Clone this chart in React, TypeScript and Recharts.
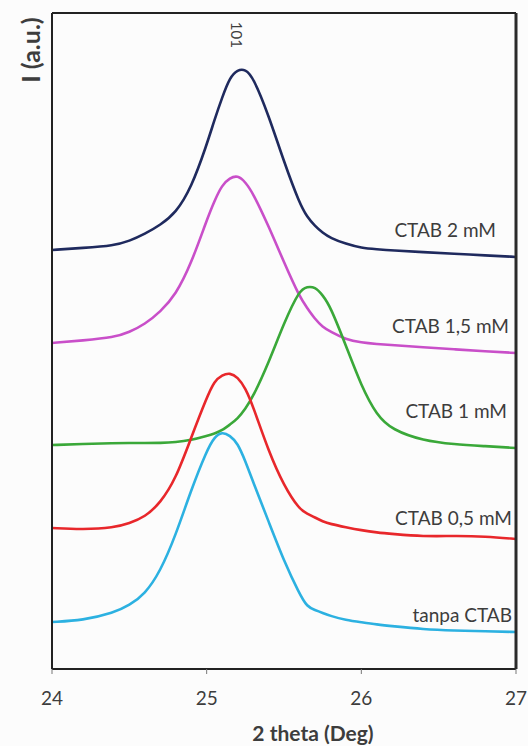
import React from "react";
import { LineChart, Line, XAxis, YAxis, ReferenceDot, Label } from "recharts";

const twoTheta = [24.0, 24.2, 24.4, 24.5, 24.6, 24.7, 24.8, 24.9, 25.0, 25.05, 25.1, 25.15, 25.2, 25.25, 25.3, 25.4, 25.5, 25.6, 25.65, 25.7, 25.75, 25.8, 25.9, 26.0, 26.1, 26.2, 26.4, 26.6, 26.8, 27.0];

const ctab2 = [4.471, 4.493, 4.518, 4.567, 4.642, 4.738, 4.866, 5.133, 5.592, 5.858, 6.099, 6.314, 6.395, 6.4, 6.317, 5.912, 5.41, 4.97, 4.823, 4.728, 4.655, 4.6, 4.536, 4.493, 4.479, 4.466, 4.448, 4.431, 4.414, 4.397];
const ctab15 = [3.479, 3.506, 3.538, 3.594, 3.679, 3.811, 3.993, 4.326, 4.789, 4.995, 5.166, 5.24, 5.268, 5.197, 5.077, 4.728, 4.339, 3.973, 3.852, 3.735, 3.65, 3.6, 3.516, 3.484, 3.468, 3.456, 3.432, 3.411, 3.391, 3.372];
const ctab1 = [2.39, 2.401, 2.41, 2.412, 2.412, 2.412, 2.419, 2.442, 2.487, 2.511, 2.546, 2.608, 2.67, 2.777, 2.905, 3.264, 3.694, 4.045, 4.08, 4.078, 3.99, 3.868, 3.453, 3.019, 2.706, 2.552, 2.436, 2.397, 2.378, 2.358];
const ctab05 = [1.505, 1.488, 1.508, 1.555, 1.621, 1.771, 2.028, 2.47, 2.894, 3.073, 3.137, 3.161, 3.116, 2.999, 2.804, 2.324, 1.953, 1.702, 1.658, 1.617, 1.575, 1.547, 1.513, 1.481, 1.456, 1.441, 1.414, 1.421, 1.416, 1.387];
const tanpa = [0.502, 0.519, 0.6, 0.68, 0.798, 1.04, 1.428, 1.913, 2.328, 2.476, 2.531, 2.492, 2.412, 2.219, 1.996, 1.576, 1.151, 0.802, 0.662, 0.63, 0.598, 0.566, 0.523, 0.499, 0.475, 0.457, 0.424, 0.41, 0.402, 0.395];

const xTicks = [24, 25, 26, 27];
const yTicks = [0, 1, 2, 3, 4, 5, 6, 7];

const seriesKeys = ["ctab2", "ctab15", "ctab1", "ctab05", "tanpa"];
const seriesNames = ["CTAB 2 mM", "CTAB 1,5 mM", "CTAB 1 mM", "CTAB 0,5 mM", "tanpa CTAB"];
const seriesColors = ["#1f2a5e", "#c94fc9", "#3aa839", "#e8272b", "#2cb1e1"];
const labelY = [4.685, 3.66, 2.746, 1.608, 0.576];
const labelOffset = [19, 6, 8, 3, 3];

const data = twoTheta.map((x, i) => ({
  x,
  ctab2: ctab2[i],
  ctab15: ctab15[i],
  ctab1: ctab1[i],
  ctab05: ctab05[i],
  tanpa: tanpa[i],
}));

const FONT = "Lato, 'Open Sans', sans-serif";
const TEXT = "#3d3d3d";

const XLabel = (props: any) => {
  const vb = props.viewBox || { x: 52, y: 669, width: 464, height: 77 };
  return (
    <text
      x={vb.x + vb.width / 2 + 29}
      y={vb.y + vb.height - 5}
      textAnchor="middle"
      fontFamily={FONT}
      fontWeight="bold"
      fontSize={21}
      fill={TEXT}
    >
      2 theta (Deg)
    </text>
  );
};

const YLabel = (props: any) => {
  const vb = props.viewBox || { x: 51, y: 13, width: 1, height: 656 };
  const cx = vb.x + vb.width - 22;
  const cy = vb.y + 37;
  return (
    <text
      x={cx}
      y={cy}
      transform={`rotate(-90, ${cx}, ${cy})`}
      textAnchor="middle"
      dominantBaseline="central"
      fontFamily={FONT}
      fontWeight="bold"
      fontSize={25}
      fill={TEXT}
    >
      I (a.u.)
    </text>
  );
};

export default function App() {
  return (
    <div style={{ position: "absolute", left: 0, top: 0, width: 528, height: 746, background: "#fcfcfc" }}>
      <LineChart width={528} height={746} data={data} margin={{ top: 12, right: 11, left: 51, bottom: 0 }}>
        <XAxis
          dataKey="x"
          type="number"
          domain={[24, 27]}
          ticks={xTicks}
          allowDataOverflow
          height={77}
          axisLine={{ stroke: "#222", strokeWidth: 2 }}
          tickLine={{ stroke: "#777", strokeWidth: 1 }}
          tickSize={5}
          tickMargin={18}
          tick={{ fontFamily: FONT, fontSize: 19, fill: TEXT }}
        >
          <Label content={XLabel} />
        </XAxis>
        <XAxis
          xAxisId="top"
          orientation="top"
          dataKey="x"
          type="number"
          domain={[24, 27]}
          ticks={xTicks}
          allowDataOverflow
          height={1}
          axisLine={{ stroke: "#222", strokeWidth: 2 }}
          tickLine={false}
          tick={false}
        />
        <YAxis
          type="number"
          domain={[0, 7]}
          ticks={yTicks}
          allowDataOverflow
          width={1}
          axisLine={{ stroke: "#222", strokeWidth: 2 }}
          tickLine={{ stroke: "#888", strokeWidth: 1 }}
          tickSize={4}
          tick={false}
        >
          <Label content={YLabel} />
        </YAxis>
        <YAxis
          yAxisId="right"
          orientation="right"
          type="number"
          domain={[0, 7]}
          ticks={yTicks}
          allowDataOverflow
          width={1}
          axisLine={{ stroke: "#2a2a2a", strokeWidth: 3 }}
          tickLine={false}
          tick={false}
        />
        {seriesKeys.map((k, i) => (
          <Line
            key={k}
            dataKey={k}
            type="basis"
            stroke={seriesColors[i]}
            strokeWidth={2.6}
            dot={false}
            activeDot={false}
            isAnimationActive={false}
          />
        ))}
        {seriesKeys.map((k, i) => (
          <ReferenceDot
            key={"lbl" + k}
            x={27}
            y={labelY[i]}
            r={1}
            fillOpacity={0}
            strokeOpacity={0}
            label={{
              value: seriesNames[i],
              position: "left",
              offset: labelOffset[i],
              fontFamily: FONT,
              fontSize: 19,
              fill: TEXT,
            }}
          />
        ))}
        <ReferenceDot
          x={25.193}
          y={6.766}
          r={1}
          fillOpacity={0}
          strokeOpacity={0}
          label={{ value: "101", position: "center", angle: 90, fontFamily: FONT, fontSize: 15, fill: TEXT }}
        />
      </LineChart>
    </div>
  );
}
